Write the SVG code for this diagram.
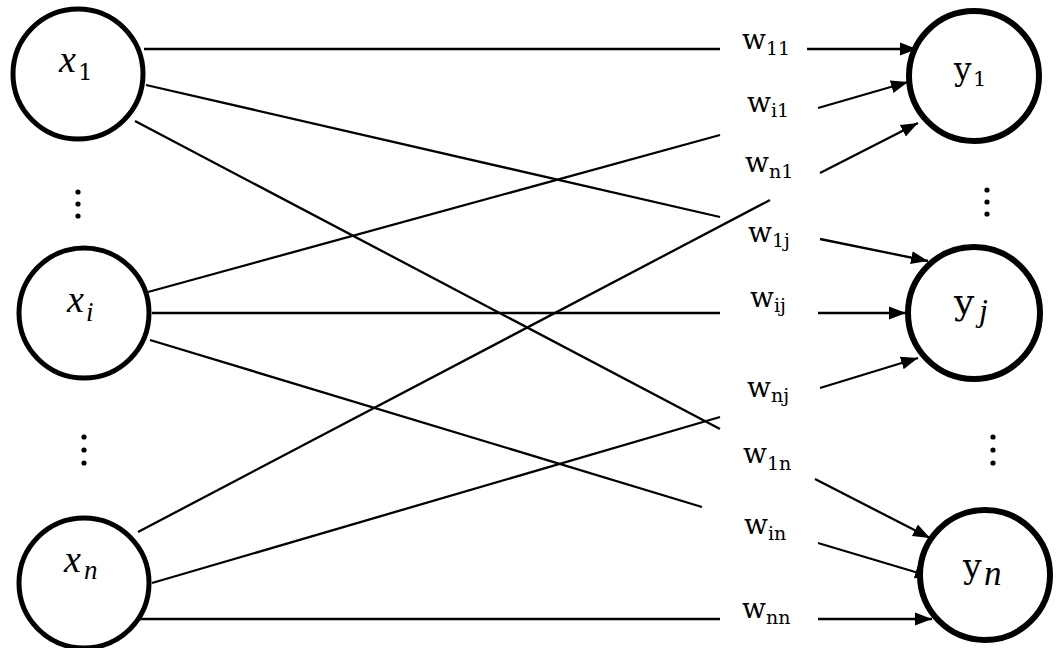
<svg xmlns="http://www.w3.org/2000/svg" width="1056" height="648" viewBox="0 0 1056 648">
  <style>
    .in { fill: #fff; stroke: #000; stroke-width: 5; }
    .out { fill: #fff; stroke: #000; stroke-width: 6; }
    .edge { stroke: #000; stroke-width: 2.3; fill: none; }
    .arrow { marker-end: url(#head); }
    .w { font-family: "DejaVu Serif", "Liberation Serif", serif; font-size: 28px; fill: #000; }
    .wsub { font-size: 19px; }
    .mi { font-family: "Liberation Serif", "DejaVu Serif", serif; font-style: italic; fill: #000; }
    .up { font-family: "DejaVu Serif", "Liberation Serif", serif; fill: #000; }
    .dot { fill: #000; }
  </style>
  <defs>
    <marker id="head" markerUnits="userSpaceOnUse" markerWidth="18" markerHeight="14" refX="17" refY="7" orient="auto">
      <path d="M0,0.5 L17,7 L0,13.5 z" fill="#000"/>
    </marker>
  </defs>
  <rect width="1056" height="648" fill="#fff"/>

  <!-- connections: each edge is drawn as two pieces with a gap for its weight label -->
  <g id="connectors">
    <!-- from x1 -->
    <line class="edge" x1="144" y1="49" x2="720" y2="49"/>
    <line class="edge arrow" x1="807" y1="49" x2="917" y2="49"/>
    <line class="edge" x1="146" y1="85" x2="720" y2="217"/>
    <line class="edge arrow" x1="820" y1="239" x2="928" y2="261"/>
    <line class="edge" x1="135" y1="121" x2="720" y2="429"/>
    <line class="edge arrow" x1="815" y1="479" x2="930" y2="538"/>
    <!-- from xi -->
    <line class="edge" x1="148" y1="292" x2="720" y2="135"/>
    <line class="edge arrow" x1="818" y1="108" x2="908" y2="82"/>
    <line class="edge" x1="152" y1="313" x2="720" y2="313"/>
    <line class="edge arrow" x1="818" y1="313" x2="906" y2="313"/>
    <line class="edge" x1="150" y1="340" x2="702" y2="507"/>
    <line class="edge arrow" x1="818" y1="543" x2="932" y2="577"/>
    <!-- from xn -->
    <line class="edge" x1="138" y1="532" x2="770" y2="200"/>
    <line class="edge arrow" x1="820" y1="173" x2="918" y2="123"/>
    <line class="edge" x1="152" y1="583" x2="720" y2="417"/>
    <line class="edge arrow" x1="820" y1="388" x2="918" y2="358"/>
    <line class="edge" x1="138" y1="619" x2="720" y2="619"/>
    <line class="edge arrow" x1="818" y1="619" x2="932" y2="619"/>
  </g>

  <!-- weight labels -->
  <g id="weights">
    <text class="w" x="742" y="49">w<tspan class="wsub" dy="6">11</tspan></text>
    <text class="w" x="747" y="112">w<tspan class="wsub" dy="5">i1</tspan></text>
    <text class="w" x="745" y="172">w<tspan class="wsub" dy="6">n1</tspan></text>
    <text class="w" x="748" y="242">w<tspan class="wsub" dy="5">1j</tspan></text>
    <text class="w" x="750" y="307">w<tspan class="wsub" dy="5">ij</tspan></text>
    <text class="w" x="747" y="397">w<tspan class="wsub" dy="5">nj</tspan></text>
    <text class="w" x="743" y="463">w<tspan class="wsub" dy="7">1n</tspan></text>
    <text class="w" x="744" y="534">w<tspan class="wsub" dy="6">in</tspan></text>
    <text class="w" x="742" y="618">w<tspan class="wsub" dy="6">nn</tspan></text>
  </g>

  <!-- input nodes -->
  <g id="node-x1">
    <circle class="in" cx="78" cy="74" r="65"/>
    <text class="mi" x="59" y="72" font-size="38">x</text>
    <text class="up" x="78" y="80" font-size="23">1</text>
  </g>
  <g id="node-xi">
    <circle class="in" cx="84" cy="313" r="65"/>
    <text class="mi" x="67" y="312" font-size="38">x</text>
    <text class="mi" x="86" y="321" font-size="27">i</text>
  </g>
  <g id="node-xn">
    <circle class="in" cx="84" cy="583" r="65"/>
    <text class="mi" x="64" y="572" font-size="38">x</text>
    <text class="mi" x="84" y="579" font-size="27">n</text>
  </g>

  <!-- output nodes -->
  <g id="node-y1">
    <circle class="out" cx="974" cy="76" r="65"/>
    <text class="up" x="954" y="80" font-size="31">y</text>
    <text class="up" x="973" y="86" font-size="21">1</text>
  </g>
  <g id="node-yj">
    <circle class="out" cx="974" cy="313" r="66"/>
    <text class="up" x="954" y="314" font-size="36">y</text>
    <text class="mi" x="979" y="321" font-size="32">j</text>
  </g>
  <g id="node-yn">
    <circle class="out" cx="985" cy="575" r="65"/>
    <text class="up" x="963" y="578" font-size="33">y</text>
    <text class="mi" x="984" y="585" font-size="35">n</text>
  </g>

  <!-- vertical ellipses between nodes -->
  <g id="ellipses">
    <circle class="dot" cx="78" cy="192" r="2.6"/>
    <circle class="dot" cx="78" cy="204" r="2.6"/>
    <circle class="dot" cx="78" cy="216" r="2.6"/>
    <circle class="dot" cx="84" cy="437" r="2.6"/>
    <circle class="dot" cx="84" cy="450" r="2.6"/>
    <circle class="dot" cx="84" cy="463" r="2.6"/>
    <circle class="dot" cx="987" cy="190" r="2.6"/>
    <circle class="dot" cx="987" cy="202" r="2.6"/>
    <circle class="dot" cx="987" cy="214" r="2.6"/>
    <circle class="dot" cx="993" cy="437" r="2.6"/>
    <circle class="dot" cx="993" cy="450" r="2.6"/>
    <circle class="dot" cx="993" cy="463" r="2.6"/>
  </g>
</svg>
